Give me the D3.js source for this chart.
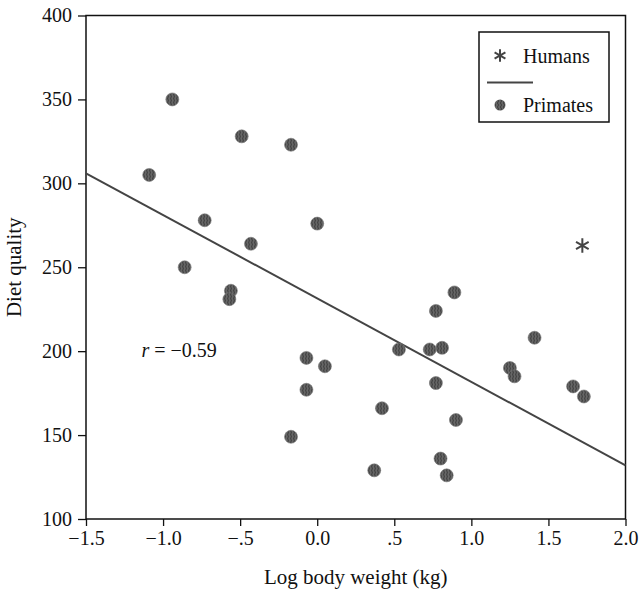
<!DOCTYPE html>
<html>
<head>
<meta charset="utf-8">
<script src="https://cdn.jsdelivr.net/npm/d3@7"></script>
<style>
  body { margin: 0; background: #fff; }
  text { font-family: 'Liberation Serif', 'DejaVu Serif', serif; fill: #111; }
</style>
</head>
<body>
<div id="chart"></div>
<script>
// primates: log body weight (kg) and diet quality
var primateX = [-0.94, -1.09, -0.49, -0.17, -0.73, 0.00, -0.43, -0.86, -0.56, -0.57,
  -0.07, 0.05, -0.07, -0.17, 0.42, 0.37, 0.53, 0.73, 0.81, 0.77,
  0.89, 0.77, 0.90, 0.80, 0.84, 1.41, 1.25, 1.28, 1.66, 1.73]
var primateY = [350, 305, 328, 323, 278, 276, 264, 250, 236, 231,
  196, 191, 177, 149, 166, 129, 201, 201, 202, 224,
  235, 181, 159, 136, 126, 208, 190, 185, 179, 173]
var humanX = [1.72]
var humanY = [263]
// regression line end points
var fitX = [-1.5, 2.0]
var fitY = [306, 132]

var xTicks = [-1.5, -1.0, -0.5, 0.0, 0.5, 1.0, 1.5, 2.0]
var xTickLabels = ['\u22121.5', '\u22121.0', '\u2212.5', '0.0', '.5', '1.0', '1.5', '2.0']
var yTicks = [100, 150, 200, 250, 300, 350, 400]

var margin = { top: 15.5, left: 86, right: 13.5, bottom: 75 }
var width = 639 - margin.left - margin.right
var height = 594 - margin.top - margin.bottom

var root = d3
  .select('#chart')
  .append('svg')
  .attr('width', 639)
  .attr('height', 594)

// hatch texture for the primate dots
var pat = root
  .append('defs')
  .append('pattern')
  .attr('id', 'hatch')
  .attr('patternUnits', 'userSpaceOnUse')
  .attr('width', 3)
  .attr('height', 4)
pat.append('rect').attr('width', 3).attr('height', 4).attr('fill', '#666')
pat
  .append('path')
  .attr('d', 'M1,0 Q2,1 1,2 Q0,3 1,4')
  .attr('stroke', '#383838')
  .attr('stroke-width', 1)
  .attr('fill', 'none')

var svg = root
  .append('g')
  .attr('transform', 'translate(' + margin.left + ',' + margin.top + ')')

var xPositionScale = d3.scaleLinear().domain([-1.5, 2.0]).range([0, width])
var yPositionScale = d3.scaleLinear().domain([100, 400]).range([height, 0])

// frame
svg
  .append('rect')
  .attr('width', width)
  .attr('height', height)
  .attr('fill', 'none')
  .attr('stroke', '#111')
  .attr('stroke-width', 1.5)

var xAxis = d3
  .axisBottom(xPositionScale)
  .tickValues(xTicks)
  .tickFormat(function(d, i) { return xTickLabels[i] })
  .tickSize(7)
  .tickPadding(5)
svg
  .append('g')
  .attr('class', 'axis x-axis')
  .attr('transform', 'translate(0,' + height + ')')
  .call(xAxis)

var yAxis = d3
  .axisLeft(yPositionScale)
  .tickValues(yTicks)
  .tickSize(8)
  .tickPadding(6)
svg
  .append('g')
  .attr('class', 'axis y-axis')
  .call(yAxis)

svg.selectAll('.axis path').remove()
svg.selectAll('.axis line').attr('stroke', '#111').attr('stroke-width', 1.3)
svg
  .selectAll('.axis text')
  .attr('font-family', "'Liberation Serif', 'DejaVu Serif', serif")
  .attr('font-size', 20)
  .attr('fill', '#111')

// regression line
var line = d3
  .line()
  .x(function(d) { return xPositionScale(d[0]) })
  .y(function(d) { return yPositionScale(d[1]) })
svg
  .append('path')
  .datum(d3.zip(fitX, fitY))
  .attr('d', line)
  .attr('stroke', '#444')
  .attr('stroke-width', 2)
  .attr('fill', 'none')

// primates
svg
  .selectAll('.primate')
  .data(d3.zip(primateX, primateY))
  .enter()
  .append('circle')
  .attr('class', 'primate')
  .attr('r', 6.5)
  .attr('cx', function(d) { return xPositionScale(d[0]) })
  .attr('cy', function(d) { return yPositionScale(d[1]) })
  .attr('fill', 'url(#hatch)')
  .attr('stroke', '#777')
  .attr('stroke-width', 0.6)

// humans
var star = d3.symbol(d3.symbolAsterisk, 150)
svg
  .selectAll('.human')
  .data(d3.zip(humanX, humanY))
  .enter()
  .append('path')
  .attr('class', 'human')
  .attr('d', star)
  .attr('transform', function(d) {
    return 'translate(' + xPositionScale(d[0]) + ',' + yPositionScale(d[1]) + ')'
  })
  .attr('stroke', '#444')
  .attr('stroke-width', 2)
  .attr('fill', 'none')

// r label
svg
  .append('text')
  .attr('x', xPositionScale(-1.14))
  .attr('y', yPositionScale(200) + 6)
  .attr('font-size', 20)
  .html('<tspan font-style="italic">r</tspan> = \u22120.59')

// legend
var legend = root.append('g').attr('transform', 'translate(479,32)')
legend
  .append('rect')
  .attr('width', 130)
  .attr('height', 90)
  .attr('fill', '#fff')
  .attr('stroke', '#111')
  .attr('stroke-width', 1.5)
legend
  .append('path')
  .attr('d', d3.symbol(d3.symbolAsterisk, 110)())
  .attr('transform', 'translate(21,23.5)')
  .attr('stroke', '#444')
  .attr('stroke-width', 2)
  .attr('fill', 'none')
legend.append('text').attr('x', 44).attr('y', 31).attr('font-size', 20).text('Humans')
legend
  .append('line')
  .attr('x1', 8)
  .attr('x2', 54)
  .attr('y1', 50.5)
  .attr('y2', 50.5)
  .attr('stroke', '#444')
  .attr('stroke-width', 2)
legend
  .append('circle')
  .attr('cx', 21)
  .attr('cy', 73)
  .attr('r', 5.5)
  .attr('fill', 'url(#hatch)')
legend.append('text').attr('x', 44).attr('y', 80).attr('font-size', 20).text('Primates')

// axis titles
svg
  .append('text')
  .attr('x', width / 2)
  .attr('y', height + 65)
  .attr('text-anchor', 'middle')
  .attr('font-size', 21)
  .text('Log body weight (kg)')

svg
  .append('text')
  .attr('transform', 'translate(' + (-65) + ',' + (yPositionScale(250)) + ') rotate(-90)')
  .attr('text-anchor', 'middle')
  .attr('font-size', 21)
  .text('Diet quality')
</script>
</body>
</html>
